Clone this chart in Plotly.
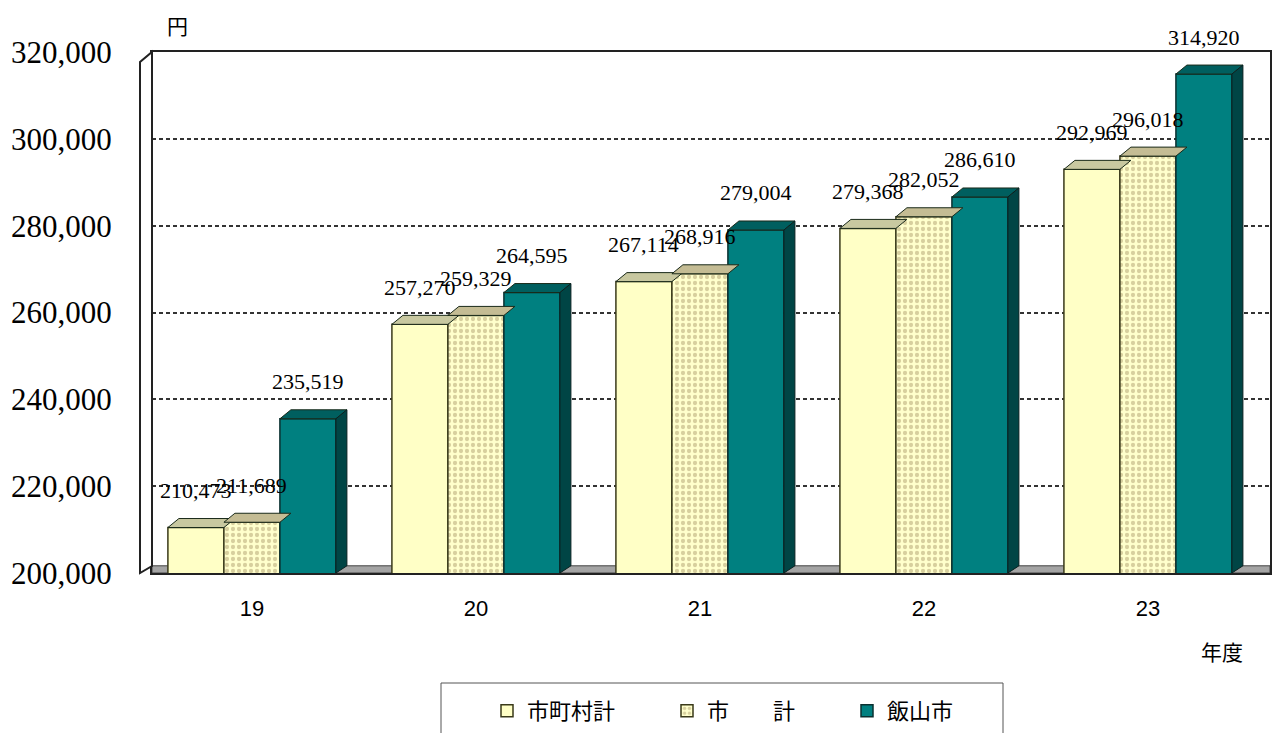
import plotly.graph_objects as go

years = ["19", "20", "21", "22", "23"]
total_municipal = [210473, 257270, 267114, 279368, 292969]
total_city = [211689, 259329, 268916, 282052, 296018]
iiyama = [235519, 264595, 279004, 286610, 314920]
series_names = ["市町村計", "市\u3000\u3000計", "飯山市"]
y_ticks = [200000, 220000, 240000, 260000, 280000, 300000, 320000]

OFF = 8  # page body margin
W, H = 1288 - OFF, 733 - OFF
PL, PR, PT, PB = 152, 1270, 52, 573  # plot area in screen pixels
L, T = PL - OFF, PT - OFF
R, B = 1288 - PR, 733 - PB
PW, PH = PR - PL, PB - PT
X_RANGE = [-0.446, 4.545]
Y_RANGE = [200000, 320000]
BAR_W = 0.25
DX = 11 / PW * (X_RANGE[1] - X_RANGE[0])
DY = 9 / PH * (Y_RANGE[1] - Y_RANGE[0])


def px(xs):
    return (xs - PL) / PW


def py(ys):
    return (PB - ys) / PH


xpos = list(range(len(years)))
fig = go.Figure()
fig.add_trace(go.Bar(x=xpos, y=total_municipal, name=series_names[0],
                     marker=dict(color="#FFFFC6", line=dict(color="#3a3a1a", width=1.5))))
fig.add_trace(go.Bar(x=xpos, y=total_city, name=series_names[1],
                     marker=dict(color="#FFFFCC", line=dict(color="#3a3a1a", width=1.5),
                                 pattern=dict(shape=".", fgcolor="#B0A070", bgcolor="#FFFFCC",
                                              size=6, solidity=0.4))))
fig.add_trace(go.Bar(x=xpos, y=iiyama, name=series_names[2],
                     marker=dict(color="#008080", line=dict(color="#0a3030", width=1.5))))

shapes = []
# floor
shapes.append(dict(type="rect", xref="x", yref="y", x0=X_RANGE[0], x1=X_RANGE[1],
                   y0=Y_RANGE[0], y1=Y_RANGE[0] + DY * 0.8, fillcolor="#a4a4a4",
                   line=dict(color="#444", width=1), layer="below"))
# 3D tops / sides
tops = ["#C8C8A0", "#C4BC94", "#005F5F"]
sides = ["#B0B080", "#A8A078", "#004545"]
offsets = [-1, 0, 1]
for k, (off, vals) in enumerate(zip(offsets, [total_municipal, total_city, iiyama])):
    for i, v in enumerate(vals):
        x0 = i + off * BAR_W - BAR_W / 2
        x1 = x0 + BAR_W
        shapes.append(dict(type="path", xref="x", yref="y", layer="above",
                           path=f"M {x0} {v} L {x0 + DX} {v + DY} L {x1 + DX} {v + DY} L {x1} {v} Z",
                           fillcolor=tops[k], line=dict(color="#1a2a1a", width=1)))
        if k == 2:
            shapes.append(dict(type="path", xref="x", yref="y", layer="above",
                               path=f"M {x1} {Y_RANGE[0]} L {x1} {v} L {x1 + DX} {v + DY} L {x1 + DX} {Y_RANGE[0] + DY * 0.8} Z",
                               fillcolor=sides[k], line=dict(color="#0a2020", width=1)))
        fig.add_annotation(x=i + off * BAR_W, y=v, xref="x", yref="y",
                           text=f"{v:,}", showarrow=False, yshift=37,
                           font=dict(family="Liberation Serif", size=22, color="black"))

# left wall
shapes.append(dict(type="path", xref="paper", yref="paper",
                   path=f"M {px(140)} {py(573)} L {px(140)} {py(62)} L {px(152)} {py(52)} L {px(152)} {py(566)} Z",
                   fillcolor="white", line=dict(color="#222", width=2)))
# legend box
shapes.append(dict(type="rect", xref="paper", yref="paper", x0=px(441), x1=px(1003),
                   y0=py(683), y1=py(745), line=dict(color="#555", width=1),
                   fillcolor="rgba(0,0,0,0)"))
fig.update_layout(shapes=shapes)

fig.add_annotation(x=px(177), y=py(25), xref="paper", yref="paper", text="円", showarrow=False,
                   xanchor="center", yanchor="middle",
                   font=dict(family="Noto Sans CJK JP", size=21, color="black"))
fig.add_annotation(x=px(1222), y=py(651), xref="paper", yref="paper", text="年度", showarrow=False,
                   xanchor="center", yanchor="middle",
                   font=dict(family="Noto Sans CJK JP", size=21, color="black"))

fig.update_layout(
    width=W, height=H,
    paper_bgcolor="white", plot_bgcolor="white",
    margin=dict(l=L, r=R, t=T, b=B, autoexpand=False),
    barmode="group", bargap=0.25, bargroupgap=0,
    showlegend=True,
    legend=dict(orientation="h", x=px(487), xanchor="left", y=py(690), yanchor="top",
                borderwidth=0, bgcolor="rgba(0,0,0,0)",
                font=dict(family="Noto Sans CJK JP", size=22, color="black"),
                itemwidth=30, entrywidthmode="pixels", entrywidth=135),
    font=dict(family="Noto Sans CJK JP", color="black"),
)

fig.update_xaxes(range=X_RANGE, tickvals=xpos, ticktext=years, automargin=False,
                 showline=True, linecolor="#222", linewidth=2, mirror=True, ticks="",
                 showgrid=False, zeroline=False, ticklabelstandoff=15,
                 tickfont=dict(family="Liberation Sans", size=22, color="black"))
fig.update_yaxes(range=Y_RANGE, tickvals=y_ticks, tickformat=",", automargin=False,
                 showline=True, linecolor="#222", linewidth=2, mirror=True,
                 showgrid=True, gridcolor="#333", griddash="4px,3px", gridwidth=1.5,
                 ticks="", zeroline=False, ticklabelstandoff=32,
                 tickfont=dict(family="Liberation Serif", size=31, color="black"))

fig.write_html("out.html")
